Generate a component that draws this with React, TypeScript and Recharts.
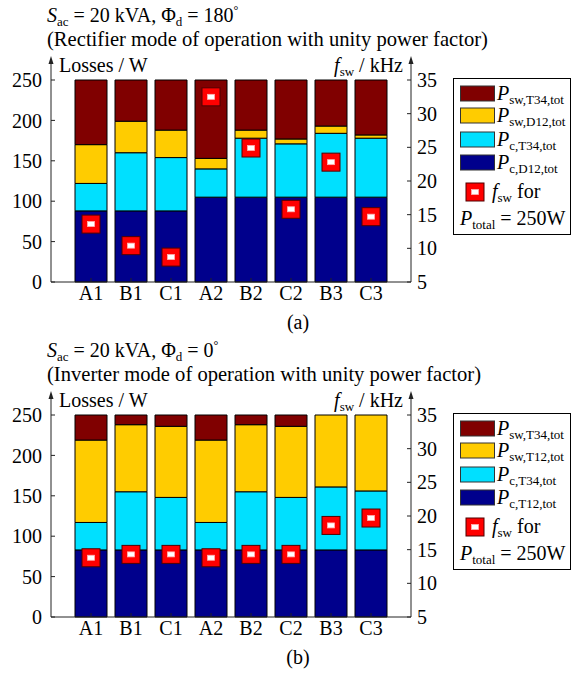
import React from "react";
import { ComposedChart, Bar, Scatter, XAxis, YAxis } from "recharts";

const FONT = "'Liberation Serif', 'Times New Roman', serif";

const categories = ["A1", "B1", "C1", "A2", "B2", "C2", "B3", "C3"];

// (a) rectifier mode, losses in W
const recPcD12 = [88, 88, 88, 105, 105, 105, 105, 105];
const recPcT34 = [34, 72, 66, 35, 73, 66, 79, 73];
const recPswD12 = [48, 39, 34, 13, 10, 6, 9, 4];
const recPswT34 = [80, 51, 62, 97, 62, 73, 57, 68];
const recFsw = [13.6, 10.4, 8.7, 32.5, 24.9, 15.8, 22.8, 14.7];

// (b) inverter mode
const invPcT12 = [83, 83, 83, 83, 83, 83, 83, 83];
const invPcT34 = [34, 72, 65, 34, 72, 65, 78, 73];
const invPswT12 = [102, 83, 88, 102, 83, 88, 89, 94];
const invPswT34 = [31, 12, 14, 31, 12, 14, 0, 0];
const invFsw = [13.8, 14.3, 14.3, 13.8, 14.3, 14.3, 18.6, 19.7];

const lossTicks = [0, 50, 100, 150, 200, 250];
const fswTicks = [5, 10, 15, 20, 25, 30, 35];

const COLORS = ["#00008c", "#00e0ff", "#ffcc00", "#800000"]; // bottom -> top
const AXIS = "#222";

function build(s1: number[], s2: number[], s3: number[], s4: number[], f: number[]) {
  return categories.map((name, i) => ({ name, s1: s1[i], s2: s2[i], s3: s3[i], s4: s4[i], fsw: f[i] }));
}

const dataA = build(recPcD12, recPcT34, recPswD12, recPswT34, recFsw);
const dataB = build(invPcT12, invPcT34, invPswT12, invPswT34, invFsw);

function Marker(props: any) {
  const { cx, cy } = props;
  if (cx == null || cy == null) return null;
  return (
    <g>
      <rect x={cx - 9} y={cy - 9} width={18} height={18} fill="#ff0000" stroke="#500000" strokeWidth={1} />
      <rect x={cx - 3.5} y={cy - 2.5} width={7} height={5} fill="#ffffff" stroke="#ffb0b0" strokeWidth={0.8} />
    </g>
  );
}

// legend subscripts, top row first
const legendA = ["sw,T34,tot", "sw,D12,tot", "c,T34,tot", "c,D12,tot"];
const legendB = ["sw,T34,tot", "sw,T12,tot", "c,T34,tot", "c,T12,tot"];

function Panel({ top, data, angle, mode, legend, caption }: any) {
  const tickStyle = { fontSize: 20, fill: "#000", fontFamily: FONT };
  const rows = [93, 115, 139, 162];
  const swatchColors = [COLORS[3], COLORS[2], COLORS[1], COLORS[0]];
  return (
    <div style={{ position: "absolute", left: 0, top, width: 572, height: 335 }}>
      <ComposedChart
        width={572}
        height={335}
        data={data}
        margin={{ top: 80, right: 121, bottom: 23, left: 0 }}
        style={{ fontFamily: FONT }}
      >
        <XAxis
          xAxisId="b"
          dataKey="name"
          orientation="bottom"
          height={30}
          padding={{ left: 20, right: 20 }}
          interval={0}
          tickSize={-4}
          tickMargin={8}
          tick={tickStyle}
          axisLine={{ stroke: AXIS }}
          tickLine={{ stroke: AXIS }}
        />
        <XAxis
          xAxisId="t"
          dataKey="name"
          orientation="top"
          height={0}
          padding={{ left: 20, right: 20 }}
          interval={0}
          tickSize={-4}
          tick={false}
          axisLine={{ stroke: AXIS }}
          tickLine={{ stroke: AXIS }}
        />
        <YAxis
          yAxisId="l"
          width={51}
          domain={[0, 250]}
          ticks={lossTicks}
          tickSize={-4}
          tickMargin={13}
          tick={tickStyle}
          axisLine={{ stroke: AXIS }}
          tickLine={{ stroke: AXIS }}
        />
        <YAxis
          yAxisId="r"
          orientation="right"
          width={40}
          domain={[5, 35]}
          ticks={fswTicks}
          tickSize={-4}
          tickMargin={10}
          tick={{ ...tickStyle, textAnchor: "start" }}
          axisLine={{ stroke: AXIS }}
          tickLine={{ stroke: AXIS }}
        />
        {["s1", "s2", "s3", "s4"].map((k, i) => (
          <Bar
            key={k}
            xAxisId="b"
            yAxisId="l"
            dataKey={k}
            stackId="a"
            barSize={32}
            fill={COLORS[i]}
            stroke="#000"
            strokeWidth={1}
            isAnimationActive={false}
          />
        ))}
        <Scatter xAxisId="b" yAxisId="r" dataKey="fsw" shape={Marker} isAnimationActive={false} />
      </ComposedChart>

      <svg
        width={572}
        height={335}
        style={{ position: "absolute", left: 0, top: 0, pointerEvents: "none" }}
        fontFamily={FONT}
        fontSize={20}
        fill="#000"
      >
        <text x={47} y={22}>
          <tspan fontStyle="italic">S</tspan>
          <tspan fontSize={13} dy={4}>ac</tspan>
          <tspan dy={-4}> = 20 kVA, Φ</tspan>
          <tspan fontSize={13} dy={4}>d</tspan>
          <tspan dy={-4}> = {angle}</tspan>
          <tspan fontSize={12} dy={-8}>°</tspan>
        </text>
        <text x={47} y={46} fontSize={20.6}>({mode} mode of operation with unity power factor)</text>

        <line x1={51} y1={80} x2={51} y2={62} stroke={AXIS} strokeWidth={1} />
        <polygon points="51,56 48.5,64 53.5,64" fill={AXIS} />
        <line x1={411} y1={80} x2={411} y2={62} stroke={AXIS} strokeWidth={1} />
        <polygon points="411,56 408.5,64 413.5,64" fill={AXIS} />
        <text x={59} y={72}>Losses / W</text>
        <text x={403} y={72} textAnchor="end">
          <tspan fontStyle="italic">f</tspan>
          <tspan fontSize={13} dy={4}>sw</tspan>
          <tspan dy={-4}> / kHz</tspan>
        </text>

        <text x={298} y={329} textAnchor="middle">{caption}</text>

        <rect x={453.5} y={78.5} width={117} height={156} fill="#fff" stroke="#000" strokeWidth={1} />
        {rows.map((c, i) => (
          <g key={i}>
            <rect x={460.5} y={c - 7} width={34} height={15} fill={swatchColors[i]} stroke="#333" strokeWidth={1} />
            <text x={497} y={c + 6.5}>
              <tspan fontStyle="italic">P</tspan>
              <tspan fontSize={13} dy={4}>{legend[i]}</tspan>
            </text>
          </g>
        ))}
        <Marker cx={475} cy={192} />
        <text x={492} y={198}>
          <tspan fontStyle="italic">f</tspan>
          <tspan fontSize={13} dy={4}>sw</tspan>
          <tspan dy={-4}> for</tspan>
        </text>
        <text x={460} y={225}>
          <tspan fontStyle="italic">P</tspan>
          <tspan fontSize={13} dy={4}>total</tspan>
          <tspan dy={-4}> = 250W</tspan>
        </text>
      </svg>
    </div>
  );
}

export default function App() {
  return (
    <div style={{ position: "absolute", left: 0, top: 0, width: 572, height: 674, background: "#fff", fontFamily: FONT }}>
      <Panel top={0} data={dataA} angle="180" mode="Rectifier" legend={legendA} caption="(a)" />
      <Panel top={335} data={dataB} angle="0" mode="Inverter" legend={legendB} caption="(b)" />
    </div>
  );
}
